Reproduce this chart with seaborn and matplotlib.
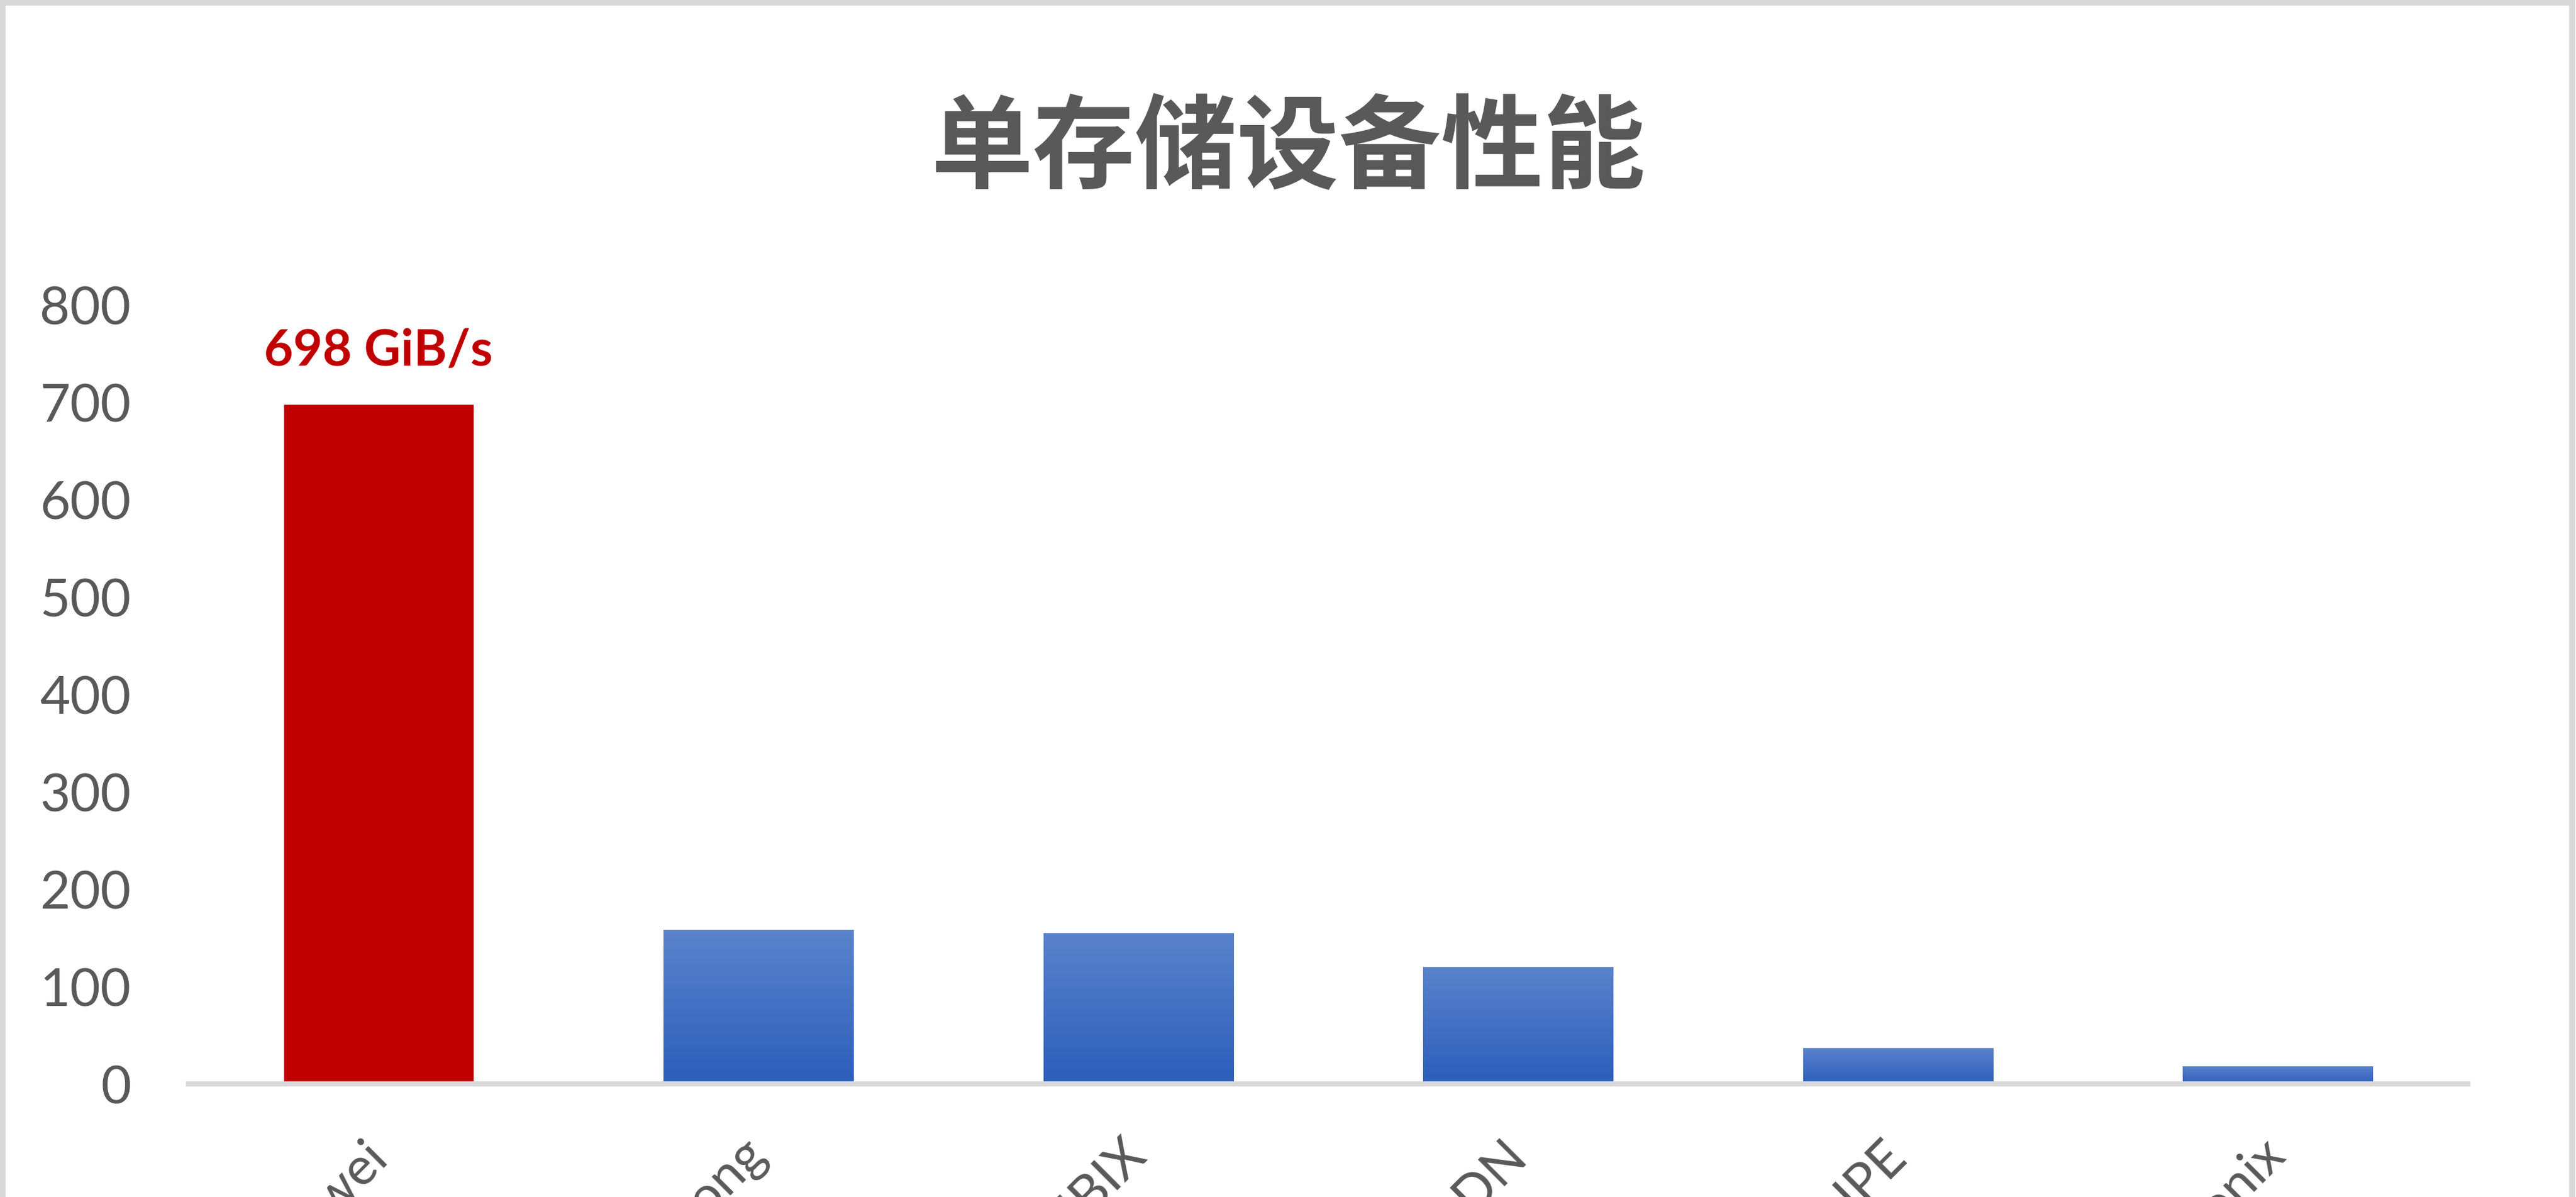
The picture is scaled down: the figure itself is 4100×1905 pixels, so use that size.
import matplotlib
matplotlib.use('Agg')
import matplotlib.pyplot as plt
import matplotlib.patheffects as pe
from matplotlib.colors import LinearSegmentedColormap
from matplotlib.patches import Rectangle
import numpy as np
import pandas as pd
import seaborn as sns


vendors = ['Huawei', 'Yanrong', 'JNBIX', 'DDN', 'HPE', 'Anonix']
bandwidth = [698, 158, 155, 120, 37, 18]
highlight = 'Huawei'
peak_label = '698 GiB/s'
title = '单存储设备性能'
yticks = [0, 100, 200, 300, 400, 500, 600, 700, 800]

sns.set_theme(style='white')
plt.rcParams['font.family'] = ['Lato', 'Noto Sans CJK SC', 'DejaVu Sans']

df = pd.DataFrame({'vendor': vendors, 'bw': bandwidth})
palette = {v: ('#C00000' if v == highlight else '#4472C4') for v in vendors}

fig = plt.figure(figsize=(41, 19.06), dpi=100)
ax = fig.add_axes([0.0732, 0.0944, 0.8848, 0.6506])

sns.barplot(data=df, x='vendor', y='bw', hue='vendor', palette=palette,
            width=0.5, saturation=1, legend=False, ax=ax)

# excel style gradient on the blue bars
blue_grad = LinearSegmentedColormap.from_list('bluegrad', ['#2B5EBA', '#5B83CC'])
grad = np.linspace(0, 1, 256).reshape(-1, 1)
for bar in ax.patches:
    bar.set_path_effects([pe.SimplePatchShadow(offset=(0, -2), shadow_rgbFace='k', alpha=0.12), pe.Normal()])
    idx = int(round(bar.get_x() + bar.get_width() / 2))
    if vendors[idx] == highlight:
        continue
    x0, w, h = bar.get_x(), bar.get_width(), bar.get_height()
    im = ax.imshow(grad, extent=(x0, x0 + w, 0, h), origin='lower', cmap=blue_grad,
                   aspect='auto', zorder=bar.get_zorder() + 0.1)
    im.set_clip_path(bar)

ax.set_xlim(-0.5, len(vendors) - 0.5)
ax.set_ylim(0, 800)
ax.set_yticks(yticks)
ax.set_xlabel('')
ax.set_ylabel('')

for s in ['top', 'right', 'left']:
    ax.spines[s].set_visible(False)
ax.spines['bottom'].set_color('#D9D9D9')
ax.spines['bottom'].set_linewidth(6)

ax.tick_params(axis='y', length=0, pad=66, labelsize=60, labelcolor='#595959')
ax.tick_params(axis='x', length=0, pad=72, labelsize=60, labelcolor='#595959')
plt.setp(ax.get_xticklabels(), rotation=45, ha='right', va='center', rotation_mode='anchor')

hi = vendors.index(highlight)
ax.annotate(peak_label, xy=(hi, bandwidth[hi]), xytext=(0, 62), textcoords='offset points',
            ha='center', va='center', fontsize=58, fontweight='bold', color='#C00000')

fig.text(0.5, 0.874, title, fontsize=117, fontweight='bold', color='#595959',
         family=['Noto Sans CJK SC', 'DejaVu Sans'], ha='center', va='center')

# chart frame
fig.add_artist(Rectangle((0.001, -0.1), 0.9975, 1.0975, transform=fig.transFigure,
                         fill=False, edgecolor='#D9D9D9', linewidth=7))

fig.savefig('out.png', dpi=100)
